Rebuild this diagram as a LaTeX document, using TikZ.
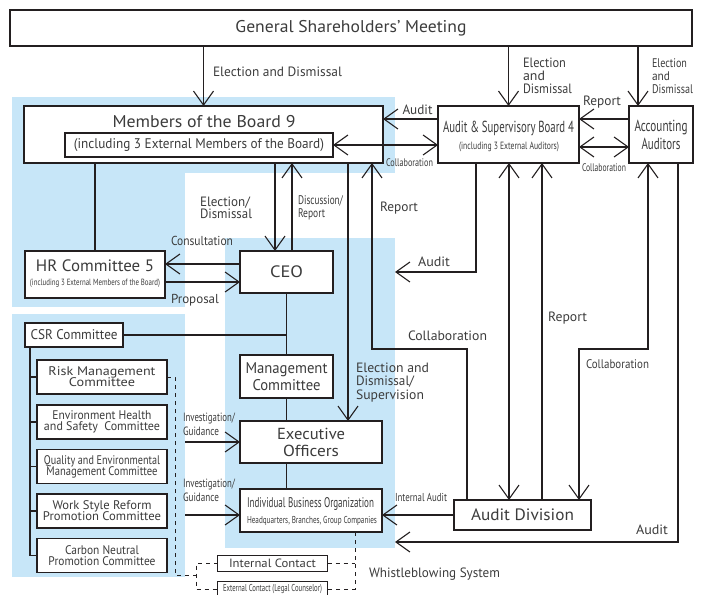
\documentclass[tikz,border=0pt]{standalone}
\usepackage{fontspec}
\setmainfont{PT Sans}
\usepackage{graphicx}
\usetikzlibrary{arrows.meta}
\definecolor{bluebg}{RGB}{199,230,248}
\definecolor{ink}{RGB}{35,31,32}
\definecolor{txt}{RGB}{60,60,60}
\newcommand{\tw}[2]{\resizebox{#1pt}{\height}{#2}}
\newcommand{\fs}[2]{\fontsize{#1}{#2}\selectfont\lineskiplimit=-30pt\relax}
\begin{document}
\begin{tikzpicture}[x=1pt,y=-1pt,
  every node/.style={text=txt,inner sep=0pt,outer sep=0pt},
  box/.style={draw=ink,line width=1.1pt,fill=white,align=center},
  >={Straight Barb[length=14pt,width=20pt]},
  ln/.style={draw=ink,line width=1.1pt},
  arr/.style={ln,->},
  darr/.style={ln,<->},
  dsh/.style={draw=ink,line width=1pt,dash pattern=on 4pt off 4pt},
  cbox/.style={box,minimum width=130pt,minimum height=34pt,font=\fs{12.5}{11}},
  lw/.style={anchor=west,align=left}]
\useasboundingbox (0,0) rectangle (703,594);
% backgrounds
\fill[bluebg] (12,97) rectangle (395,173);
\fill[bluebg] (12,97) rectangle (185,307);
\fill[bluebg] (225,238) rectangle (395,548);
\fill[bluebg] (12,314) rectangle (185,577);
% boxes
\node[box,minimum width=682pt,minimum height=36pt,font=\fs{17}{20}] (gsm) at (351,28) {\tw{231}{General Shareholders’ Meeting}};
\node[box,minimum width=359pt,minimum height=57pt] (board) at (203.5,134.5) {};
\node[font=\fs{17}{20}] (boardt) at (204,121.5) {\tw{183}{Members of the Board 9}};
\node[box,minimum width=268pt,minimum height=24pt,font=\fs{14}{16}] (boardin) at (199,145) {\tw{250}{(including 3 External Members of the Board)}};
\node[box,minimum width=141pt,minimum height=57pt] (asb) at (508.5,134.5) {};
\node[font=\fs{16}{18}] (asbt) at (508.5,128) {\tw{131}{Audit \& Supervisory Board 4}};
\node[font=\fs{10.5}{12}] (asbs) at (509,147) {\tw{100}{(including 3 External Auditors)}};
\node[box,minimum width=64pt,minimum height=57pt,font=\fs{16}{18}] (acc) at (661,134.5) {\tw{53}{Accounting}\\\tw{39}{Auditors}};
\node[box,minimum width=140pt,minimum height=47pt] (hr) at (95,274.5) {};
\node[font=\fs{16.5}{18}] (hrt) at (95,266) {\tw{118}{HR Committee 5}};
\node[font=\fs{9}{10}] (hrs) at (95,283.5) {\tw{130}{(including 3 External Members of the Board)}};
\node[box,minimum width=93pt,minimum height=42pt,font=\fs{16.5}{18}] (ceo) at (286.5,272) {\tw{33}{CEO}};
\node[box,minimum width=98pt,minimum height=24pt,font=\fs{14}{16}] (csr) at (74,335) {\tw{87}{CSR Committee}};
\node[box,minimum width=93pt,minimum height=43pt,font=\fs{15.5}{17}] (mc) at (286.5,376.5) {\tw{82}{Management}\\\tw{68}{Committee}};
\node[box,minimum width=142pt,minimum height=42pt,font=\fs{16}{17}] (eo) at (311,442) {\tw{68}{Executive}\\\tw{56}{Officers}};
\node[box,minimum width=142pt,minimum height=43pt] (ibo) at (311,510.5) {};
\node[font=\fs{14}{16}] (ibot) at (310.5,504) {\tw{127}{Individual Business Organization}};
\node[font=\fs{10}{12}] (ibos) at (312,521) {\tw{130}{Headquarters, Branches, Group Companies}};
\node[box,minimum width=137pt,minimum height=30pt,font=\fs{16.5}{18}] (ad) at (522.5,515) {\tw{103}{Audit Division}};
\node[cbox] (risk) at (102,377) {\tw{107}{Risk Management}\\\tw{66}{Committee}};
\node[cbox] (env) at (102,422) {\tw{99}{Environment Health}\\\tw{116}{and Safety~ Committee}};
\node[cbox] (qual) at (102,466.5) {\tw{116}{Quality and Environmental}\\\tw{111}{Management Committee}};
\node[cbox] (work) at (102,511) {\tw{99}{Work Style Reform}\\\tw{118}{Promotion Committee}};
\node[cbox] (carb) at (102,555.5) {\tw{74}{Carbon Neutral}\\\tw{107}{Promotion Committee}};
\node[box,line width=1pt,minimum width=110pt,minimum height=16pt,font=\fs{12}{14}] (ic) at (272.5,563) {\tw{87}{Internal Contact}};
\node[box,line width=1pt,minimum width=110pt,minimum height=16pt,font=\fs{10}{12}] (ec) at (272.5,589) {\tw{99}{External Contact (Legal Counselor)}};
% free ends
\coordinate (auA) at (395,272);
\coordinate (auB) at (395,542);
\coordinate (ig1) at (185,442);
\coordinate (ig2) at (185,515);
% connectors
\draw[arr] (board.north |- gsm.south) -- (board.north);
\draw[arr] (asb.north |- gsm.south) -- (asb.north);
\draw[arr] (gsm.south -| 638,0) -- (acc.north -| 638,0);
\draw[arr] (asb.west |- 0,119) -- (board.east |- 0,119);
\draw[darr] (boardin.east) -- (asb.west |- boardin.east);
\draw[arr] (acc.west |- 0,119) -- (asb.east |- 0,119);
\draw[darr] (asb.east |- 0,147) -- (acc.west |- 0,147);
\draw[ln] (board.south -| hr.north) -- (hr.north);
\draw[arr] (board.south -| 275,0) -- (ceo.north -| 275,0);
\draw[arr] (ceo.north -| 292,0) -- (board.south -| 292,0);
\draw[arr] (board.south -| 348,0) -- (eo.north -| 348,0);
\draw[arr] (ad.north -| 467,0) |- (372,349) -- (board.south -| 372,0);
\draw[arr] (ceo.west |- 0,264) -- (hr.east |- 0,264);
\draw[arr] (hr.east |- 0,282) -- (ceo.west |- 0,282);
\draw[arr] (asb.south -| 476,0) |- (auA);
\draw[darr] (asb.south -| 509,0) -- (ad.north -| 509,0);
\draw[arr] (ad.north -| 542,0) -- (asb.south -| 542,0);
\draw[darr] (acc.south -| 648,0) |- (579,349) -- (ad.north -| 579,0);
\draw[arr] (acc.south -| 678,0) |- (auB);
\draw[arr] (ad.west) -- (ad.west -| ibo.east);
\draw[ln] (ceo.south) -- (mc.north);
\draw[ln] (mc.south) -- (mc.south |- eo.north);
\draw[ln] (eo.south -| mc.south) -- (ibo.north -| mc.south);
\draw[ln] (csr.east) -- (csr.east -| mc.north);
\draw[ln] (csr.south -| 30,0) -- (carb.west -| 30,0);
\foreach \c in {risk,env,qual,work,carb} \draw[ln] (\c.west -| 30,0) -- (\c.west);
\draw[arr] (ig1) -- (ig1 -| eo.west);
\draw[arr] (ig2) -- (ig2 -| ibo.west);
\draw[dsh] (risk.east) -- (175,377) -- (175,575) -- (196,575);
\draw[dsh] (ic.west) -- (196,563) -- (196,589) -- (ec.west);
\draw[dsh] (ibo.south -| 355,0) -- (355,589) -- (ec.east);
\draw[dsh] (ic.east) -- (ic.east -| 355,0);
% labels
\node[font=\fs{13.5}{14},anchor=west] (l1) at (213,72) {\tw{129}{Election and Dismissal}};
\node[font=\fs{13.5}{13},lw] (l2) at (523,76) {\tw{43}{Election}\\\tw{22}{and}\\\tw{49}{Dismissal}};
\node[font=\fs{12.5}{13},lw] (l3) at (652,76) {\tw{35}{Election}\\\tw{18}{and}\\\tw{41}{Dismissal}};
\node[font=\fs{13.5}{14}] (l4) at (417.5,110) {\tw{30}{Audit}};
\node[font=\fs{13.5}{14}] (l5) at (602,102) {\tw{38}{Report}};
\node[font=\fs{11}{12}] (l6) at (409.5,163) {\tw{47}{Collaboration}};
\node[font=\fs{11}{12}] (l7) at (604,168) {\tw{44}{Collaboration}};
\node[font=\fs{13.5}{12.5},lw] (l8) at (200,208) {\tw{50}{Election/}\\\tw{52}{Dismissal}};
\node[font=\fs{12.5}{12.5},lw] (l9) at (298,208) {\tw{45}{Discussion/}\\\tw{27}{Report}};
\node[font=\fs{13}{14}] (l10) at (202,241) {\tw{62}{Consultation}};
\node[font=\fs{13}{14}] (l11) at (195,300) {\tw{48}{Proposal}};
\node[font=\fs{13.5}{14}] (l12) at (399,208) {\tw{38}{Report}};
\node[font=\fs{13.5}{14}] (l13) at (434,262) {\tw{32}{Audit}};
\node[font=\fs{13.5}{14}] (l14) at (447.5,336) {\tw{79}{Collaboration}};
\node[font=\fs{13.5}{14}] (l15) at (567.5,318) {\tw{39}{Report}};
\node[font=\fs{12.5}{14}] (l16) at (617.5,364) {\tw{63}{Collaboration}};
\node[font=\fs{13.5}{14}] (l17) at (652,530) {\tw{32}{Audit}};
\node[font=\fs{13.5}{13.5},lw] (l18) at (356,382.5) {\tw{73}{Election and}\\\tw{58}{Dismissal/}\\\tw{68}{Supervision}};
\node[font=\fs{12}{14},lw] (l19) at (183,424) {\tw{52}{Investigation/}\\\tw{36}{Guidance}};
\node[font=\fs{12}{14},lw] (l20) at (183,490) {\tw{52}{Investigation/}\\\tw{36}{Guidance}};
\node[font=\fs{11.5}{13}] (l21) at (421,497) {\tw{52}{Internal Audit}};
\node[font=\fs{13.5}{14}] (l22) at (434.5,574) {\tw{131}{Whistleblowing System}};
\end{tikzpicture}
\end{document}
